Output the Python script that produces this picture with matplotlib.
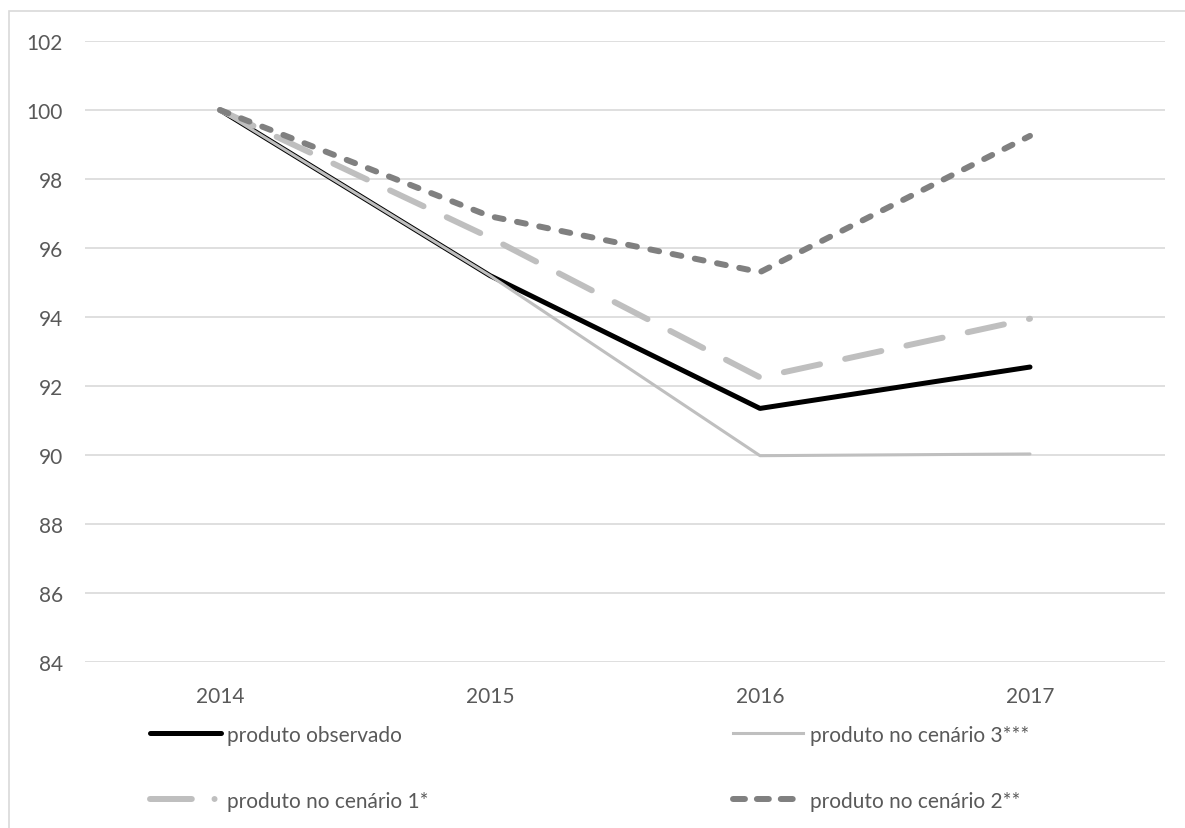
import matplotlib.pyplot as plt
from matplotlib.lines import Line2D
from matplotlib.patches import Rectangle

# Data
anos = ['2014', '2015', '2016', '2017']
observado = [100, 95.2, 91.35, 92.55]
cenario3 = [100, 95.2, 89.98, 90.03]
cenario1 = [100, 96.3, 92.25, 93.95]
cenario2 = [100, 96.92, 95.3, 99.25]
yticks = [84, 86, 88, 90, 92, 94, 96, 98, 100, 102]

plt.rcParams['font.family'] = ['Lato', 'DejaVu Sans']
txt_color = '#595959'
fs = 15

W, H = 1185, 829
fig = plt.figure(figsize=(W / 100, H / 100), dpi=100)
ax = fig.add_axes([85 / W, 1 - 663 / H, 1080 / W, (663 - 42) / H])

x = list(range(len(anos)))
# observed drawn under scenario 3 (they coincide 2014-2015 in the original)
ax.plot(x, observado, color='black', lw=3.6, solid_capstyle='round', zorder=2)
ax.plot(x, cenario3, color='#bfbfbf', lw=2.2, solid_capstyle='round', zorder=3)
l1, = ax.plot(x, cenario1, color='#bfbfbf', lw=4.3, dash_capstyle='round',
              zorder=4)
l1.set_dashes([6.2, 4.3])
l2, = ax.plot(x, cenario2, color='#808080', lw=4.3, dash_capstyle='round',
              zorder=5)
l2.set_dashes([1.5, 2.3])

ax.set_xlim(-0.5, 3.5)
ax.set_ylim(84, 102)
ax.set_yticks(yticks)
ax.set_xticks(x)
ax.set_xticklabels(anos)
ax.grid(axis='y', color='#d9d9d9', lw=1.2)
ax.set_axisbelow(True)
for s in ax.spines.values():
    s.set_visible(False)
ax.tick_params(length=0, labelsize=fs, colors=txt_color)
ax.tick_params(axis='y', pad=16)
ax.tick_params(axis='x', pad=17)

# chart border (only left and top visible in the reference)
fig.patches.append(Rectangle((9 / W, -0.05), 1.2, 1 - 12 / H + 0.05,
                             transform=fig.transFigure, fill=False,
                             edgecolor='#d9d9d9', lw=1.2))

# legend
h_obs = Line2D([], [], color='black', lw=3.6, solid_capstyle='round')
h_c3 = Line2D([], [], color='#bfbfbf', lw=2.2)
h_c1 = Line2D([], [], color='#bfbfbf', lw=4.3, dash_capstyle='round',
              dashes=[7.0, 3.8, 0.01, 10])
h_c2 = Line2D([], [], color='#808080', lw=4.3, dash_capstyle='round',
              dashes=[2.0, 2.0])
leg = fig.legend([h_obs, h_c1, h_c3, h_c2],
                 ['produto observado', 'produto no cenário 1*',
                  'produto no cenário 3***', 'produto no cenário 2**'],
                 ncol=2, loc='upper left', bbox_to_anchor=(131 / W, 1 - 707 / H),
                 frameon=False, fontsize=fs, handlelength=3.4,
                 handletextpad=0.3, columnspacing=14.6, labelspacing=2.2,
                 labelcolor=txt_color)

fig.savefig('out.png', dpi=100)
